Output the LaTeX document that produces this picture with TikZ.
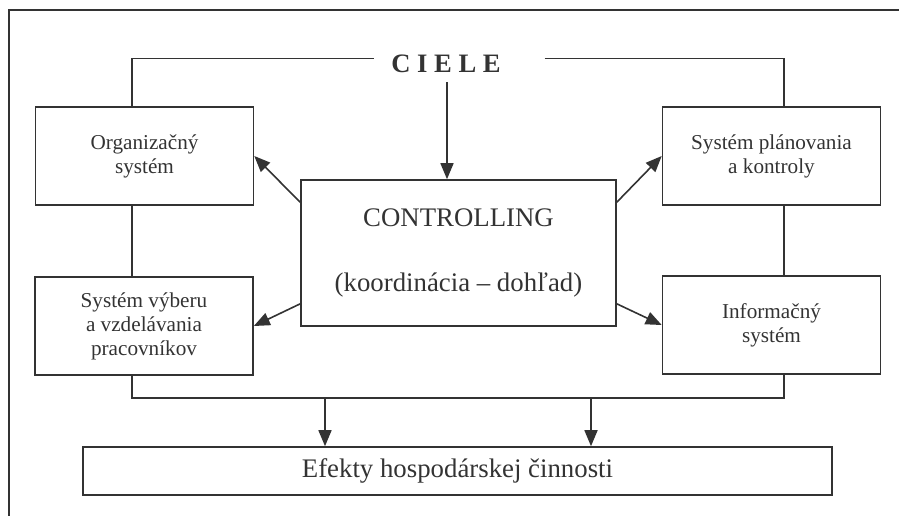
\documentclass[tikz,border=0pt]{standalone}
\usepackage{fontspec}
\setmainfont{Liberation Serif}
\usetikzlibrary{arrows.meta}
\definecolor{ink}{gray}{0.2}

\begin{document}
\begin{tikzpicture}[
            x=0.5pt, y=-0.5pt,
            line width=0.8pt,
            color=ink,
            unit/.style={
                draw,
                minimum width=109pt,
                minimum height=49pt,
                inner sep=2pt,
                align=center,
                font=\fontsize{10.6}{12}\selectfont
            },
            core/.style={
                draw,
                minimum width=157.5pt,
                minimum height=73pt,
                align=center,
                font=\fontsize{13.4}{32.5}\selectfont
            },
            result/.style={
                draw,
                minimum width=374.5pt,
                minimum height=24pt,
                font=\fontsize{13.4}{16}\selectfont
            },
            arr/.style={-{Triangle[length=8pt,width=6.5pt]}}
        ]
            \useasboundingbox (0,0) rectangle (899,516);

            % outer frame
            \draw (899,10) -- (9,10) -- (9,516);

            \node[font=\bfseries\fontsize{13.3}{15}\selectfont, inner sep=0pt] (ciele) at (446,63.5) {C I E L E};

            \node[unit] (org) at (144.5,156) {Organizačný\\systém};
            \node[unit] (plan) at (771.5,156) {Systém plánovania\\a kontroly};
            \node[unit] (vyber) at (144,326) {Systém výberu\\a vzdelávania\\pracovníkov};
            \node[unit] (info) at (771.5,325) {Informačný\\systém};

            \node[core] (ctrl) at (458.5,253) {CONTROLLING\\(koordinácia -- dohľad)};

            \node[result] (efekty) at (457.5,471) {Efekty hospodárskej činnosti};

            \coordinate (lx) at (132,398);
            \coordinate (rx) at (784,398);
            \coordinate (c) at (447,82);
            \coordinate (e1) at (325,398);
            \coordinate (e2) at (591,398);

            \draw ([shift={(-8.5pt,2.5pt)}]ciele.west) -| (org.north -| lx);
            \draw ([shift={(21.5pt,2.5pt)}]ciele.east) -| (plan.north -| rx);
            \draw (org.south -| lx) -- (vyber.north -| lx);
            \draw (plan.south -| rx) -- (info.north -| rx);
            \draw (vyber.south -| lx) -- (lx) -- (rx) -- (info.south -| rx);

            \draw[arr] (c) -- (ctrl.north -| c);
            \draw[arr] ([yshift=-11.5pt]ctrl.north west) -- (org.east);
            \draw[arr] ([yshift=11.5pt]ctrl.south west) -- (vyber.east);
            \draw[arr] ([yshift=-11.5pt]ctrl.north east) -- (plan.west);
            \draw[arr] ([yshift=11.5pt]ctrl.south east) -- (info.west);

            \draw[arr] (e1) -- (efekty.north -| e1);
            \draw[arr] (e2) -- (efekty.north -| e2);

        \end{tikzpicture}
\end{document}
